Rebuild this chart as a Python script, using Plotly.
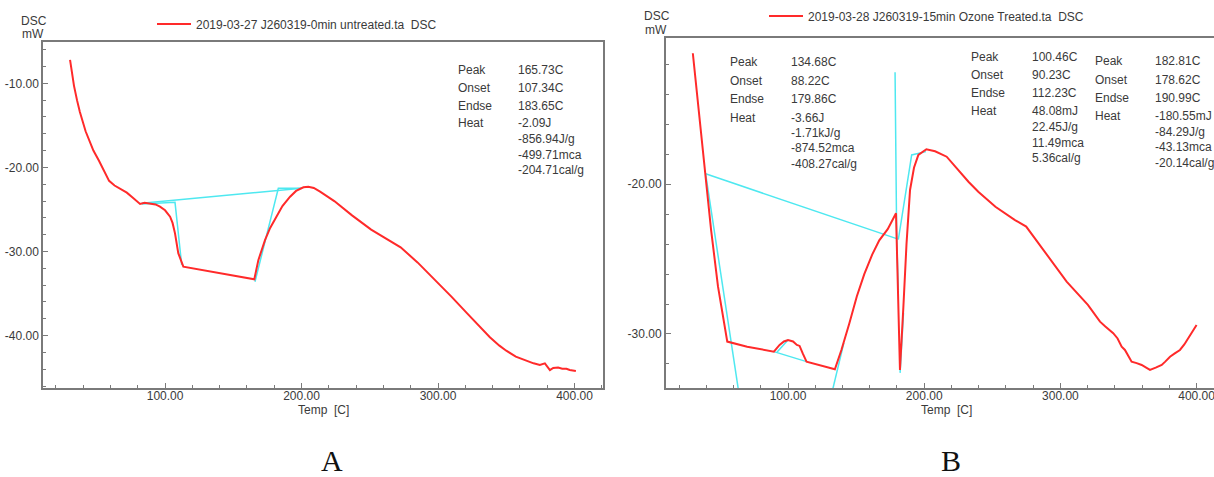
import plotly.graph_objects as go

# ---------------- data ----------------
# Panel A : 0 min untreated
A_temp = [30.4, 31.5, 33.3, 35.5, 37.6, 41.8, 47.5, 51.6, 56.0, 59.0, 63.0, 67.5, 72.0, 76.0, 81.7,
          85.0, 89.0, 93.0, 96.3, 100.0, 103.7, 105.5, 107.3, 109.7, 113.4, 140.0, 165.4, 168.4,
          173.3, 177.0, 181.8, 186.0, 191.6, 196.0, 201.4, 205.0, 209.0, 213.6, 224.0, 237.0,
          251.0, 262.0, 272.6, 285.0, 298.0, 310.0, 321.0, 330.0, 338.0, 345.0, 350.0, 357.0,
          360.0, 364.0, 367.3, 370.0, 374.6, 378.3, 382.0, 384.4, 388.0, 391.0, 394.1, 396.5, 401.0]
A_dsc = [-7.2, -8.6, -10.3, -12.0, -13.4, -15.7, -18.0, -19.2, -20.6, -21.6, -22.15, -22.6, -23.0,
         -23.55, -24.35, -24.2, -24.27, -24.4, -24.67, -25.1, -25.86, -26.6, -27.84, -30.2, -31.8,
         -32.55, -33.3, -31.0, -28.63, -27.2, -25.86, -24.6, -23.48, -22.8, -22.37, -22.3, -22.45,
         -22.89, -24.0, -25.7, -27.4, -28.5, -29.5, -31.3, -33.4, -35.4, -37.3, -38.9, -40.2,
         -41.2, -41.8, -42.5, -42.7, -42.96, -43.1, -43.3, -43.5, -43.3, -44.1, -43.85, -43.8,
         -43.95, -43.95, -44.1, -44.2]

# Panel A analysis (cyan) lines
A_base_temp = [82.9, 200.1]
A_base_dsc = [-24.27, -22.49]
A_onset_temp = [82.9, 107.3, 112.2]
A_onset_dsc = [-24.35, -24.15, -31.6]
A_endset_temp = [165.9, 183.0, 200.1]
A_endset_dsc = [-33.6, -22.49, -22.49]

# Panel B : 15 min ozone treated
B_temp = [30.1, 35.0, 39.5, 43.5, 48.6, 52.5, 55.4, 70.0, 89.6, 93.8, 97.0, 100.0, 103.7, 106.5,
          108.5, 110.8, 113.6, 134.4, 139.2, 145.0, 150.5, 156.0, 161.8, 167.0, 173.2, 179.3,
          180.5, 182.2, 184.7, 187.0, 189.6, 192.5, 195.7, 201.6, 208.0, 216.5, 232.5, 239.7,
          252.3, 266.4, 274.9, 289.1, 304.6, 320.2, 329.1, 333.0, 338.8, 342.0, 345.0, 347.4,
          350.0, 352.3, 356.0, 359.7, 363.0, 365.8, 370.0, 374.4, 377.0, 380.5, 384.0, 387.8,
          391.0, 393.9, 397.0, 400.0]
B_dsc = [-11.25, -15.5, -19.3, -23.05, -26.84, -29.0, -30.51, -30.85, -31.18, -30.73, -30.5, -30.4,
         -30.5, -30.73, -30.8, -31.3, -31.85, -32.36, -31.07, -29.3, -27.5, -26.0, -24.7, -23.75,
         -23.0, -21.94, -27.0, -32.4, -28.2, -24.0, -20.38, -18.9, -18.04, -17.66, -17.8, -18.16,
         -19.83, -20.5, -21.5, -22.38, -22.83, -24.6, -26.5, -28.06, -29.18, -29.5, -29.95, -30.3,
         -30.85, -31.07, -31.5, -31.85, -31.95, -32.07, -32.25, -32.4, -32.25, -32.07, -31.85,
         -31.52, -31.3, -31.07, -30.7, -30.29, -29.9, -29.4]

# Panel B analysis (cyan) lines
B_base_temp = [39.5, 180.3]
B_base_dsc = [-19.3, -23.65]
B_tan1_temp = [39.5, 65.0]
B_tan1_dsc = [-19.3, -34.6]
B_tan2_temp = [131.5, 141.0]
B_tan2_dsc = [-34.2, -30.6]
B_hump_temp = [89.6, 113.6]
B_hump_dsc = [-31.18, -31.85]
B_humptop_temp = [92.0, 100.0]
B_humptop_dsc = [-31.2, -30.4]
B_spike_temp = [178.6, 179.8, 181.0]
B_spike_dsc = [-12.52, -23.61, -27.06]
B_peak2_temp = [181.0, 190.8, 201.3]
B_peak2_dsc = [-23.7, -18.04, -17.82]
B_spikeb_temp = [182.3, 184.8]
B_spikeb_dsc = [-32.6, -28.6]

# Tick labels
x_tickvals = [100, 200, 300, 400]
x_ticktext = ["100.00", "200.00", "300.00", "400.00"]
A_y_tickvals = [-40, -30, -20, -10]
A_y_ticktext = ["-40.00", "-30.00", "-20.00", "-10.00"]
B_y_tickvals = [-30, -20]
B_y_ticktext = ["-30.00", "-20.00"]

# Legend names
A_name = "2019-03-27 J260319-0min untreated.ta  DSC"
B_name = "2019-03-28 J260319-15min Ozone Treated.ta  DSC"

# Result tables
A_labels = ["Peak", "Onset", "Endse", "Heat"]
A_values = ["165.73C", "107.34C", "183.65C", "-2.09J", "-856.94J/g", "-499.71mca", "-204.71cal/g"]
B1_labels = ["Peak", "Onset", "Endse", "Heat"]
B1_values = ["134.68C", "88.22C", "179.86C", "-3.66J", "-1.71kJ/g", "-874.52mca", "-408.27cal/g"]
B2_labels = ["Peak", "Onset", "Endse", "Heat"]
B2_values = ["100.46C", "90.23C", "112.23C", "48.08mJ", "22.45J/g", "11.49mca", "5.36cal/g"]
B3_labels = ["Peak", "Onset", "Endse", "Heat"]
B3_values = ["182.81C", "178.62C", "190.99C", "-180.55mJ", "-84.29J/g", "-43.13mca", "-20.14cal/g"]

# ---------------- figure ----------------
W, H = 1214, 477
RED = "#ff2a2a"
CYAN = "#4ee8f0"
AX = "#7a7a7a"
TXT = "#3a3a3a"
FONT = "Liberation Sans, Arial, sans-serif"


def px(x):
    return x / W


def py(y):
    return 1 - y / H


def join(*segs):
    xs, ys = [], []
    for sx, sy in segs:
        if xs:
            xs.append(None)
            ys.append(None)
        xs += sx
        ys += sy
    return xs, ys


fig = go.Figure()

cx, cy = join((A_base_temp, A_base_dsc), (A_onset_temp, A_onset_dsc), (A_endset_temp, A_endset_dsc))
fig.add_trace(go.Scatter(x=cx, y=cy, mode="lines", line=dict(color=CYAN, width=1.5),
                         showlegend=False, xaxis="x", yaxis="y", hoverinfo="skip"))
fig.add_trace(go.Scatter(x=A_temp, y=A_dsc, mode="lines", line=dict(color=RED, width=2),
                         name=A_name, legend="legend", xaxis="x", yaxis="y"))

cx, cy = join((B_base_temp, B_base_dsc), (B_tan1_temp, B_tan1_dsc), (B_tan2_temp, B_tan2_dsc),
              (B_hump_temp, B_hump_dsc), (B_humptop_temp, B_humptop_dsc),
              (B_spike_temp, B_spike_dsc), (B_peak2_temp, B_peak2_dsc), (B_spikeb_temp, B_spikeb_dsc))
fig.add_trace(go.Scatter(x=cx, y=cy, mode="lines", line=dict(color=CYAN, width=1.5),
                         showlegend=False, xaxis="x2", yaxis="y2", hoverinfo="skip"))
fig.add_trace(go.Scatter(x=B_temp, y=B_dsc, mode="lines", line=dict(color=RED, width=2),
                         name=B_name, legend="legend2", xaxis="x2", yaxis="y2"))

axis_common = dict(showgrid=False, zeroline=False, showline=True, linecolor=AX, linewidth=2,
                   ticks="inside", ticklen=5, tickcolor=AX, tickwidth=1,
                   tickfont=dict(family=FONT, size=12, color=TXT))
xaxis_extra = dict(ticklabelstandoff=-5, ticklabeloverflow="allow")

fig.update_layout(
    width=W, height=H,
    margin=dict(l=0, r=0, t=0, b=0),
    paper_bgcolor="white", plot_bgcolor="white",
    font=dict(family=FONT, size=12, color=TXT),
    hovermode=False,
    xaxis=dict(domain=[px(43.3), px(603.3)], range=[10.8, 421.1], anchor="y",
               tickmode="array", tickvals=x_tickvals, ticktext=x_ticktext, mirror=True,
               minor=dict(dtick=20, tick0=0, ticks="inside", ticklen=3, tickcolor=AX),
               **axis_common, **xaxis_extra),
    yaxis=dict(domain=[py(388.3), py(41.7)], range=[-46.27, -5.05], anchor="x",
               tickmode="array", tickvals=A_y_tickvals, ticktext=A_y_ticktext, mirror=True,
               minor=dict(dtick=2, tick0=0, ticks="inside", ticklen=3, tickcolor=AX),
               **axis_common),
    xaxis2=dict(domain=[px(666), 1.0], range=[10.4, 412.8], anchor="y2",
                tickmode="array", tickvals=x_tickvals, ticktext=x_ticktext, mirror=True,
                minor=dict(dtick=20, tick0=0, ticks="inside", ticklen=3, tickcolor=AX),
                **axis_common, **xaxis_extra),
    yaxis2=dict(domain=[py(388.3), py(37.7)], range=[-33.63, -10.21], anchor="x2",
                tickmode="array", tickvals=B_y_tickvals, ticktext=B_y_ticktext, mirror=False,
                minor=dict(dtick=2, tick0=0, ticks="inside", ticklen=3, tickcolor=AX),
                **axis_common),
    legend=dict(x=px(152), y=py(24), xanchor="left", yanchor="middle", orientation="h",
                itemwidth=34,
                bgcolor="rgba(0,0,0,0)", font=dict(family=FONT, size=12, color=TXT)),
    legend2=dict(x=px(764), y=py(16), xanchor="left", yanchor="middle", orientation="h",
                 itemwidth=34,
                 bgcolor="rgba(0,0,0,0)", font=dict(family=FONT, size=12, color=TXT)),
)

ann = []


def text(x, y, s, size=12, anchor="left", family=FONT, color=TXT):
    ann.append(dict(x=px(x), y=py(y), xref="paper", yref="paper", text=s, showarrow=False,
                    xanchor=anchor, yanchor="middle", font=dict(family=family, size=size, color=color)))


# DSC / mW unit labels
text(34, 21, "DSC", anchor="center")
text(33, 34, "mW", anchor="center")
text(657, 16, "DSC", anchor="center")
text(656, 30, "mW", anchor="center")

# axis titles
text(323, 410, "Temp  [C]", anchor="center")
text(946, 410, "Temp  [C]", anchor="center")


def table(lx, vx, label_rows, value_rows, labels, values):
    for lab, yy in zip(labels, label_rows):
        text(lx, yy, lab)
    for val, yy in zip(values, value_rows):
        text(vx, yy, val)


table(456, 516, [70, 88, 105.5, 123], [70, 88, 105.5, 123, 138.5, 154.5, 170.5], A_labels, A_values)
table(728, 789, [62, 80.5, 99, 117.5], [62, 80.5, 99, 117.5, 132.5, 148, 164], B1_labels, B1_values)
table(969, 1030, [57, 75, 93, 111], [57, 75, 93, 111, 127, 142.5, 158], B2_labels, B2_values)
table(1093, 1153, [61.5, 80, 97.5, 116.5], [61.5, 80, 97.5, 116.5, 131.5, 147, 163], B3_labels, B3_values)

# panel letters
text(332, 460, "A", size=30, anchor="center", family="Liberation Serif, Times New Roman, serif", color="#111")
text(951, 460, "B", size=30, anchor="center", family="Liberation Serif, Times New Roman, serif", color="#111")

fig.update_layout(annotations=ann)

fig.write_html("out.html", config={"displayModeBar": False},
               post_script="document.body.style.margin='0';document.body.style.overflow='hidden';")
